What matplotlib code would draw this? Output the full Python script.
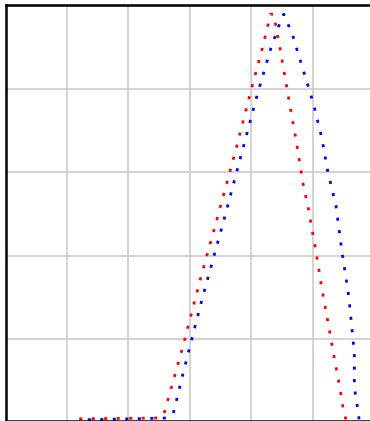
import matplotlib
matplotlib.use("Agg")
import matplotlib.pyplot as plt

# two distribution curves, drawn as dotted lines
red_x = [1.20, 2.52, 2.58, 2.89, 3.18, 3.44, 3.74, 3.98, 4.18, 4.27, 4.31, 4.37,
         4.40, 4.47, 4.57, 4.63, 4.73, 4.85, 4.93, 5.06, 5.15, 5.25, 5.35, 5.45,
         5.51, 5.55]
red_y = [0.05, 0.06, 0.11, 0.92, 1.74, 2.43, 3.24, 3.93, 4.48, 4.75, 4.89, 4.89,
         4.75, 4.48, 4.06, 3.80, 3.39, 2.84, 2.57, 2.03, 1.61, 1.21, 0.79, 0.40,
         0.12, 0.03]

blue_x = [1.34, 2.08, 2.63, 2.73, 2.91, 3.20, 3.56, 3.85, 4.10, 4.32, 4.45, 4.53,
          4.67, 4.84, 5.01, 5.15, 5.25, 5.38, 5.48, 5.59, 5.68, 5.68, 5.74, 5.76]
blue_y = [0.04, 0.05, 0.06, 0.11, 0.65, 1.48, 2.44, 3.24, 3.93, 4.48, 4.75, 4.89,
          4.65, 4.24, 3.83, 3.41, 3.00, 2.60, 2.04, 1.51, 0.83, 0.43, 0.14, 0.03]

fig = plt.figure(figsize=(3.7, 4.21), dpi=100)
ax = fig.add_axes([5.5 / 370, 0.5 / 421, 368.5 / 370, 415.5 / 421])

dots = (0, (1.1, 3.4))
ax.plot(red_x, red_y, color="#ff0000", lw=2.0, linestyle=dots, clip_on=False)
ax.plot(blue_x, blue_y, color="#0000ff", lw=2.0, linestyle=dots, clip_on=False)

ax.set_xlim(0, 6)
ax.set_ylim(0.03, 5)
ax.set_xticks(range(0, 7))
ax.set_yticks(range(1, 6))
ax.grid(True, color="#c8c8c8", lw=1.1)
ax.set_axisbelow(True)
ax.tick_params(length=0, labelbottom=False, labelleft=False)
for s in ax.spines.values():
    s.set_linewidth(1.8)
    s.set_color("black")

fig.savefig("out.png", dpi=100)
